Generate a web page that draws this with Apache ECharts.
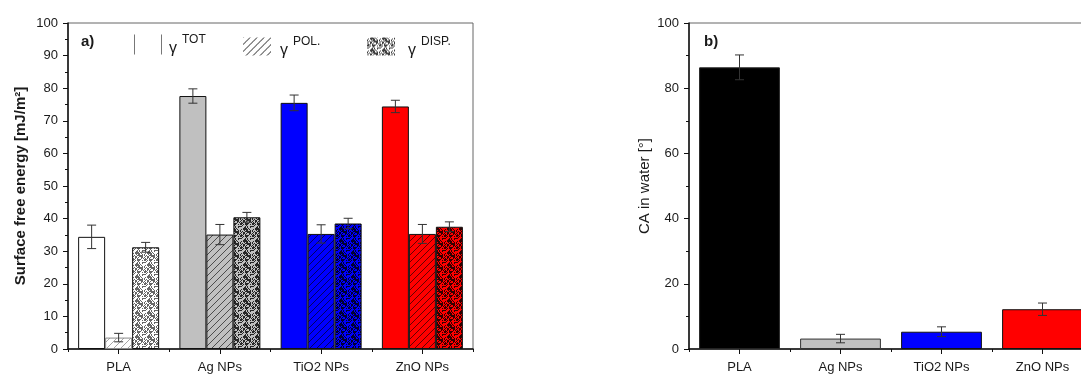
<!DOCTYPE html>
<html>
<head>
<meta charset="utf-8">
<script src="https://cdn.jsdelivr.net/npm/echarts@6/dist/echarts.min.js"></script>
<style>
html,body{margin:0;padding:0;background:#fff;}
#c{width:1081px;height:374px;}
</style>
</head>
<body>
<div id="c"></div>
<script>
// ---- data ----
const categories = ['PLA', 'Ag NPs', 'TiO2 NPs', 'ZnO NPs'];
const totVals  = [34.4, 77.6, 75.5, 74.4];
const totErr   = [3.6, 2.2, 2.4, 1.9];
const polVals  = [3.5, 35.1, 35.3, 35.3];
const polErr   = [1.3, 3.1, 2.8, 2.9];
const dispVals = [31.2, 40.4, 38.5, 37.5];
const dispErr  = [1.5, 1.5, 1.6, 1.5];
const caVals   = [86.4, 3.2, 5.3, 12.2];
const caErr    = [3.8, 1.3, 1.5, 1.9];
const leftTicks = [0,10,20,30,40,50,60,70,80,90,100];
const rightTicks = [0,20,40,60,80,100];

// ---- styles ----
const baseColors = ['#ffffff', '#c0c0c0', '#0000ff', '#ff0000'];
const caColors = ['#000000', '#c0c0c0', '#0000ff', '#ff0000'];
const FONT = 'Liberation Sans, Arial, sans-serif';
const TXT = '#1a1a1a';

function hatch(base, line) {
  const s = 7, c = document.createElement('canvas');
  c.width = s; c.height = s;
  const g = c.getContext('2d');
  g.fillStyle = base; g.fillRect(0, 0, s, s);
  g.strokeStyle = line; g.lineWidth = 1;
  g.beginPath();
  g.moveTo(-1, s + 1); g.lineTo(s + 1, -1);
  g.moveTo(-1, 1); g.lineTo(1, -1);
  g.moveTo(s - 1, s + 1); g.lineTo(s + 1, s - 1);
  g.stroke();
  return { image: c, repeat: 'repeat' };
}
function speckle(base, dot, dens) {
  const s = 12, c = document.createElement('canvas');
  c.width = s; c.height = s;
  const g = c.getContext('2d');
  g.fillStyle = base; g.fillRect(0, 0, s, s);
  g.fillStyle = dot;
  let h = 12345;
  for (let y = 0; y < s; y++) for (let x = 0; x < s; x++) {
    h = (h * 1103515245 + 12345) & 0x7fffffff;
    if ((h % 1000) / 1000 < dens) g.fillRect(x, y, 1, 1);
  }
  return { image: c, repeat: 'repeat' };
}

const polColors = baseColors.map((b, i) => hatch(b, i === 0 ? 'rgba(0,0,0,0.35)' : 'rgba(0,0,0,0.6)'));
const dispColors = baseColors.map((b, i) => speckle(b, i === 0 ? 'rgba(0,0,0,0.6)' : 'rgba(0,0,0,0.8)', 0.5));

function barData(vals, colors, borders) {
  return vals.map((v, i) => ({
    value: v,
    itemStyle: { color: colors[i], borderColor: borders ? borders[i] : '#111', borderWidth: 1 }
  }));
}

function errRender(k, n, frac) {
  return function (params, api) {
    const x = api.value(0), v = api.value(1), e = api.value(2);
    const cw = api.size([1, 0])[0];
    const bw = cw * frac / n;
    const off = (k - (n - 1) / 2) * bw;
    const t = api.coord([x, v + e]);
    const b = api.coord([x, v - e]);
    const cx = t[0] + off;
    const cap = 4.5;
    const st = { stroke: '#333', lineWidth: 1 };
    return {
      type: 'group',
      children: [
        { type: 'line', shape: { x1: cx, y1: t[1], x2: cx, y2: b[1] }, style: st },
        { type: 'line', shape: { x1: cx - cap, y1: t[1], x2: cx + cap, y2: t[1] }, style: st },
        { type: 'line', shape: { x1: cx - cap, y1: b[1], x2: cx + cap, y2: b[1] }, style: st }
      ]
    };
  };
}
function errData(vals, errs) {
  return vals.map((v, i) => [i, v, errs[i]]);
}

const chart = echarts.init(document.getElementById('c'));

const yAxisCommon = {
  type: 'value', min: 0, max: 100,
  axisLine: { show: true, lineStyle: { color: '#111', width: 1.5 } },
  axisTick: { show: true, inside: false, length: 5, lineStyle: { color: '#111' } },
  minorTick: { show: true, splitNumber: 2, length: 3, lineStyle: { color: '#111' } },
  splitLine: { show: false },
  axisLabel: { color: TXT, fontFamily: FONT, fontSize: 13, margin: 10 },
  nameLocation: 'middle'
};
const xMain = (gi) => ({
  type: 'category', gridIndex: gi, data: categories, position: 'bottom',
  axisLine: { show: true, lineStyle: { color: '#111', width: 1.5 } },
  axisTick: { show: true, alignWithLabel: true, length: 5, lineStyle: { color: '#111' } },
  axisLabel: { color: TXT, fontFamily: FONT, fontSize: 13, margin: 12 }
});
const xMinor = (gi) => ({
  type: 'category', gridIndex: gi, data: categories, position: 'bottom',
  axisLine: { show: false },
  axisTick: { show: true, length: 3, lineStyle: { color: '#111' } },
  axisLabel: { show: false }
});

function legendOf(left, top, gPad, item, h) {
  return {
    left: left, top: top, orient: 'horizontal', selectedMode: false,
    itemWidth: 28, itemHeight: h, padding: 0,
    formatter: n => '{g|γ}{s|' + n + '}',
    textStyle: {
      rich: {
        g: { fontSize: 16, fontFamily: FONT, color: TXT, padding: [8, 0, 0, gPad] },
        s: { fontSize: 12, fontFamily: FONT, color: TXT, padding: [0, 0, 9, 5] }
      }
    },
    data: [item]
  };
}

chart.setOption({
  animation: false,
  backgroundColor: '#ffffff',
  title: [
    { text: 'a)', left: 76, top: 29, textStyle: { fontFamily: FONT, fontSize: 15, fontWeight: 'bold', color: TXT } },
    { text: 'b)', left: 699, top: 29, textStyle: { fontFamily: FONT, fontSize: 15, fontWeight: 'bold', color: TXT } }
  ],
  legend: [
    legendOf(134, 34, 2, { name: 'TOT', icon: 'path://M0,0h1v20h-1z M27,0h1v20h-1z', itemStyle: { color: '#777', borderWidth: 0 } }, 20),
    legendOf(243, 36, 4, { name: 'POL.', icon: 'rect', itemStyle: { color: hatch('#ffffff', 'rgba(0,0,0,0.85)'), borderWidth: 0 } }, 18),
    legendOf(367, 36, 8, { name: 'DISP.', icon: 'rect', itemStyle: { color: speckle('#ffffff', 'rgba(0,0,0,0.75)', 0.5), borderWidth: 0 } }, 18)
  ],
  grid: [
    { left: 68, right: 608, top: 23, bottom: 25, show: true, borderColor: '#666', borderWidth: 1, backgroundColor: 'transparent', outerBoundsMode: 'none' },
    { left: 689, width: 404, top: 23, bottom: 25, show: true, borderColor: '#666', borderWidth: 1, backgroundColor: 'transparent', outerBoundsMode: 'none' }
  ],
  xAxis: [xMain(0), xMinor(0), xMain(1), xMinor(1)],
  yAxis: [
    Object.assign({}, yAxisCommon, { gridIndex: 0, interval: leftTicks[1] - leftTicks[0],
      name: 'Surface free energy [mJ/m²]', nameGap: 40,
      nameTextStyle: { fontFamily: FONT, fontSize: 15, fontWeight: 'bold', color: TXT } }),
    Object.assign({}, yAxisCommon, { gridIndex: 1, interval: rightTicks[1] - rightTicks[0],
      name: 'CA in water [°]', nameGap: 37,
      nameTextStyle: { fontFamily: FONT, fontSize: 15, color: TXT } })
  ],
  series: [
    { type: 'bar', name: 'TOT', xAxisIndex: 0, yAxisIndex: 0, barGap: '0%', barCategoryGap: '20%',
      data: barData(totVals, baseColors), z: 2 },
    { type: 'bar', name: 'POL.', xAxisIndex: 0, yAxisIndex: 0, barGap: '0%', barCategoryGap: '20%',
      data: barData(polVals, polColors, ['#888', '#111', '#111', '#111']), z: 2 },
    { type: 'bar', name: 'DISP.', xAxisIndex: 0, yAxisIndex: 0, barGap: '0%', barCategoryGap: '20%',
      data: barData(dispVals, dispColors), z: 2 },
    { type: 'custom', xAxisIndex: 0, yAxisIndex: 0, renderItem: errRender(0, 3, 0.8), data: errData(totVals, totErr), z: 5 },
    { type: 'custom', xAxisIndex: 0, yAxisIndex: 0, renderItem: errRender(1, 3, 0.8), data: errData(polVals, polErr), z: 5 },
    { type: 'custom', xAxisIndex: 0, yAxisIndex: 0, renderItem: errRender(2, 3, 0.8), data: errData(dispVals, dispErr), z: 5 },
    { type: 'bar', name: 'CA', xAxisIndex: 2, yAxisIndex: 1, barCategoryGap: '20%',
      data: barData(caVals, caColors, ['#222', '#333', '#111', '#111']), z: 2 },
    { type: 'custom', xAxisIndex: 2, yAxisIndex: 1, renderItem: errRender(0, 1, 0.8), data: errData(caVals, caErr), z: 5 }
  ]
});
</script>
</body>
</html>
